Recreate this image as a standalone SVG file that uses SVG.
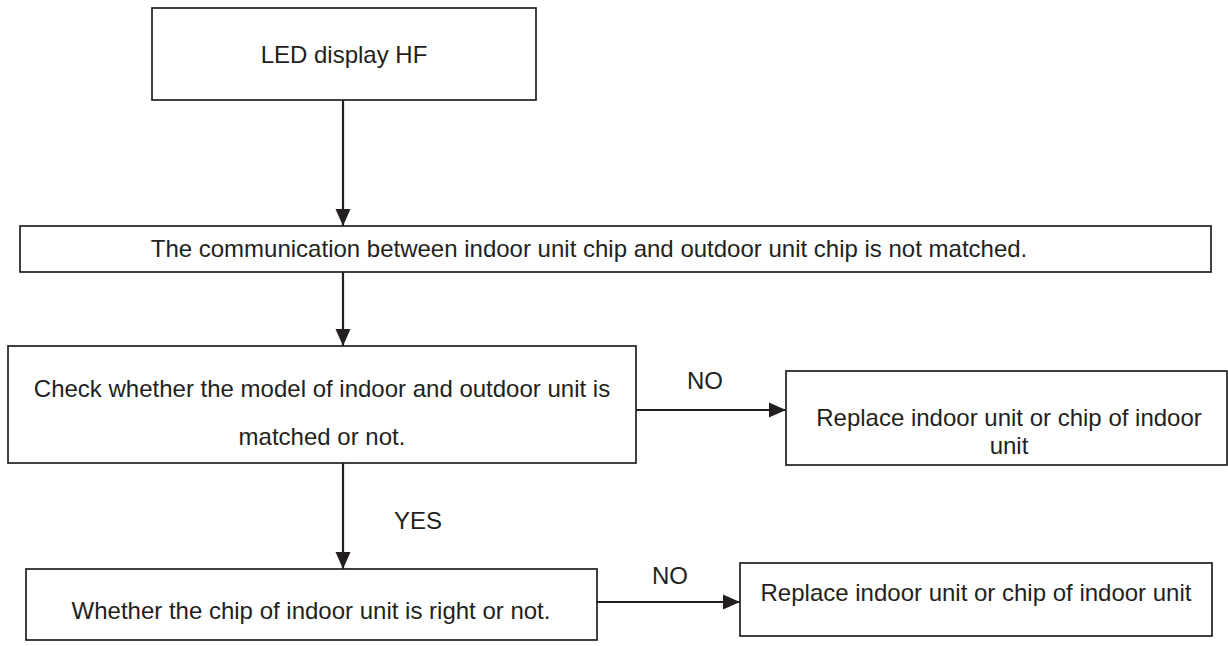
<svg xmlns="http://www.w3.org/2000/svg" width="1228" height="646" viewBox="0 0 1228 646">
<style>
.box{fill:#fff;stroke:#231f20;stroke-width:1.7}
.t{font-family:"Liberation Sans",Arial,sans-serif;font-size:24px;fill:#231f20;text-anchor:middle}
.lbl{font-family:"Liberation Sans",Arial,sans-serif;font-size:24px;fill:#231f20;text-anchor:middle}
.c{stroke:#231f20;stroke-width:2.2;fill:none}
</style>
<defs>
<marker id="ah" markerUnits="userSpaceOnUse" markerWidth="18" markerHeight="18" viewBox="0 0 18 18" refX="17" refY="9" orient="auto">
<path d="M0,1.5 L17,9 L0,16.5 Z" fill="#231f20"/>
</marker>
</defs>
<rect width="1228" height="646" fill="#fff"/>
<g id="connectors">
<line class="c" x1="343" y1="100" x2="343" y2="226" marker-end="url(#ah)"/>
<line class="c" x1="343" y1="272" x2="343" y2="346" marker-end="url(#ah)"/>
<line class="c" x1="636" y1="410" x2="786" y2="410" marker-end="url(#ah)"/>
<line class="c" x1="343" y1="463" x2="343" y2="569" marker-end="url(#ah)"/>
<line class="c" x1="597" y1="602" x2="740" y2="602" marker-end="url(#ah)"/>
<text class="lbl" x="705" y="389">NO</text>
<text class="lbl" x="418" y="529">YES</text>
<text class="lbl" x="670" y="584">NO</text>
</g>
<g id="n1">
<rect class="box" x="152" y="8" width="384" height="92"/>
<text class="t" x="344" y="63">LED display HF</text>
</g>
<g id="n2">
<rect class="box" x="20" y="226" width="1191" height="46"/>
<text class="t" x="589" y="257">The communication between indoor unit chip and outdoor unit chip is not matched.</text>
</g>
<g id="n3">
<rect class="box" x="8" y="346" width="628" height="117"/>
<text class="t" x="322" y="397">Check whether the model of indoor and outdoor unit is</text>
<text class="t" x="322" y="445">matched or not.</text>
</g>
<g id="n4">
<rect class="box" x="786" y="371" width="441" height="94"/>
<text class="t" x="1009" y="426">Replace indoor unit or chip of indoor</text>
<text class="t" x="1009" y="454">unit</text>
</g>
<g id="n5">
<rect class="box" x="26" y="569" width="571" height="71"/>
<text class="t" x="311" y="619">Whether the chip of indoor unit is right or not.</text>
</g>
<g id="n6">
<rect class="box" x="740" y="563" width="472" height="73"/>
<text class="t" x="976" y="601">Replace indoor unit or chip of indoor unit</text>
</g>
</svg>
